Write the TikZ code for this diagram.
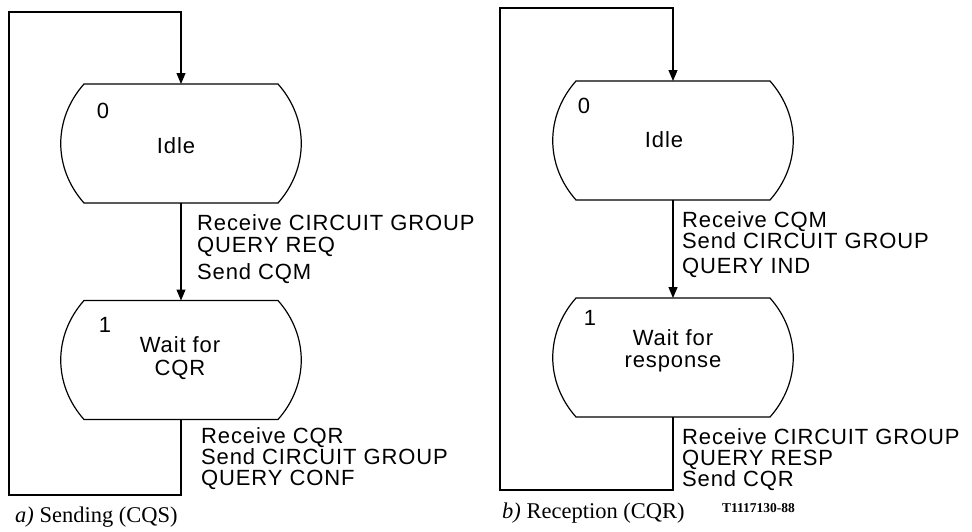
\documentclass[tikz,border=0pt]{standalone}
\usepackage{fontspec}
\setmainfont{Liberation Serif}
\newfontfamily\labfont[LetterSpace=4]{Liberation Sans}
\usetikzlibrary{arrows.meta,calc}
\lineskiplimit=-50pt
\tikzset{
  stateshape/.style={minimum width=194pt, minimum height=119pt, inner sep=0pt, outer sep=0pt, draw=none},
  conn/.style={line width=1.2pt},
  arr/.style={conn, -{Triangle[length=11pt,width=9pt]}},
  lbl/.style={font=\labfont\fontsize{22}{#1}\selectfont, align=left, inner sep=0pt, anchor=north west},
  stxt/.style={font=\labfont\fontsize{22}{#1}\selectfont, align=center, inner sep=0pt},
  stxt/.default=23,
  capt/.style={font=\fontsize{22.5}{24}\selectfont, inner sep=0pt, anchor=base west},
}
\newcommand\stateoutline[2]{%
  \draw[conn] (#1.north west) -- (#1.north east)
    .. controls ($(#1.north east)+(#2,35)$) and ($(#1.south east)+(#2,-35)$) .. (#1.south east)
    -- (#1.south west)
    .. controls ($(#1.south west)+(-#2,-35)$) and ($(#1.north west)+(-#2,35)$) .. cycle;}
\begin{document}
\begin{tikzpicture}[x=1pt,y=-1pt]
\useasboundingbox (0,0) rectangle (972,531);
% ---------- a) Sending
\node[stateshape] (a0) at (181,143.5) {};
\node[stateshape] (a1) at (181,360) {};
\stateoutline{a0}{31}
\stateoutline{a1}{31}
\node[stxt, anchor=base] (a0n) at (103,118) {0};
\node[stxt, anchor=base] (a0t) at (176,153) {Idle};
\node[stxt, anchor=base] (a1n) at (105,332) {1};
\node[stxt, anchor=north] (a1t) at (180,336) {Wait for\\CQR};
\coordinate (aBL) at (9,495);
\coordinate (aTL) at (9,12);
\draw[arr] (a0) -- (a1);
\draw[arr] (a1.south) |- (aBL) -- (aTL) -| (a0.north);
\node[lbl=22] (a01) at (197,214.5) {Receive CIRCUIT GROUP\\QUERY REQ\\[5pt]Send CQM};
\node[lbl=21] (a10) at (201,427) {Receive CQR\\Send CIRCUIT GROUP\\QUERY CONF};
\node[capt] (capa) at (15,522) {\textit{a)} Sending (CQS)};
% ---------- b) Reception
\node[stateshape] (b0) at (673,140.5) {};
\node[stateshape] (b1) at (673,357.5) {};
\stateoutline{b0}{31}
\stateoutline{b1}{31}
\node[stxt, anchor=base] (b0n) at (584,113) {0};
\node[stxt, anchor=base] (b0t) at (664,147) {Idle};
\node[stxt, anchor=base] (b1n) at (590,325) {1};
\node[stxt=22, anchor=north] (b1t) at (673,329) {Wait for\\response};
\coordinate (bBL) at (500,490);
\coordinate (bTL) at (500,8);
\draw[arr] (b0) -- (b1);
\draw[arr] (b1.south) |- (bBL) -- (bTL) -| (b0.north);
\node[lbl=21] (b01) at (682,211) {Receive CQM\\Send CIRCUIT GROUP\\[4pt]QUERY IND};
\node[lbl=21] (b10) at (682,428) {Receive CIRCUIT GROUP\\QUERY RESP\\Send CQR};
\node[capt] (capb) at (502,518) {\textit{b)} Reception (CQR)};
\node[font=\bfseries\fontsize{13.5}{14}\selectfont, inner sep=0pt, anchor=base west] (code) at (722,512) {T1117130-88};
\end{tikzpicture}
\end{document}
